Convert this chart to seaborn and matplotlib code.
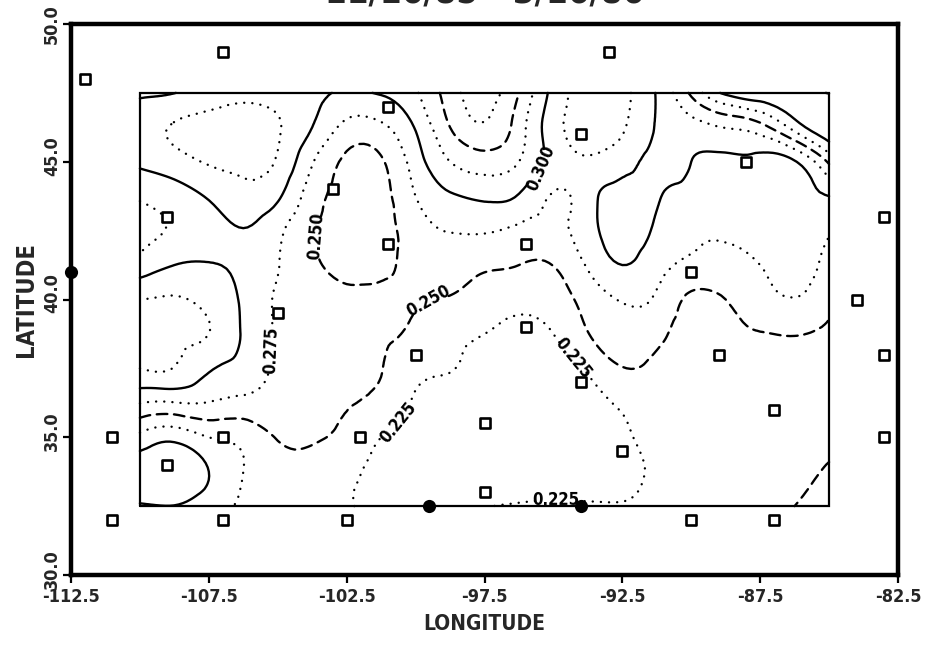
import numpy as np
import matplotlib
matplotlib.use("Agg")
import matplotlib.pyplot as plt
import matplotlib.tri as mtri
import matplotlib.transforms as mtransforms
import seaborn as sns

# Gridded analysis (1.25 degree spacing), rows from north to south
grid_lon = [-110.0, -108.75, -107.5, -106.25, -105.0, -103.75, -102.5, -101.25,
            -100.0, -98.75, -97.5, -96.25, -95.0, -93.75, -92.5, -91.25,
            -90.0, -88.75, -87.5, -86.25, -85.0]
grid_lat = [47.5, 46.25, 45.0, 43.75, 42.5, 41.25, 40.0, 38.75, 37.5, 36.25,
            35.0, 33.75, 32.5]

row_475 = [0.296, 0.2995, 0.313, 0.318, 0.317, 0.308, 0.297, 0.302, 0.322, 0.363, 0.385,
           0.350, 0.292, 0.262, 0.268, 0.302, 0.355, 0.405, 0.420, 0.410, 0.399]
row_4625 = [0.315, 0.327, 0.333, 0.336, 0.327, 0.300, 0.268, 0.270, 0.302, 0.350, 0.372,
            0.337, 0.285, 0.264, 0.272, 0.302, 0.315, 0.326, 0.340, 0.385, 0.420]
row_450 = [0.305, 0.315, 0.327, 0.332, 0.322, 0.277, 0.245, 0.247, 0.287, 0.325, 0.338,
           0.325, 0.290, 0.278, 0.290, 0.306, 0.300, 0.295, 0.293, 0.298, 0.355]
row_4375 = [0.278, 0.287, 0.303, 0.316, 0.304, 0.262, 0.242, 0.242, 0.275, 0.297, 0.305,
            0.298, 0.273, 0.290, 0.310, 0.302, 0.293, 0.290, 0.288, 0.292, 0.300]
row_425 = [0.268, 0.277, 0.287, 0.299, 0.281, 0.253, 0.240, 0.242, 0.263, 0.276, 0.277,
           0.270, 0.268, 0.290, 0.310, 0.296, 0.280, 0.279, 0.285, 0.288, 0.277]
row_4125 = [0.285, 0.300, 0.302, 0.293, 0.276, 0.255, 0.243, 0.245, 0.258, 0.262, 0.254,
            0.250, 0.2505, 0.278, 0.300, 0.285, 0.270, 0.268, 0.275, 0.283, 0.268]
row_400 = [0.325, 0.327, 0.318, 0.296, 0.272, 0.262, 0.255, 0.255, 0.252, 0.248, 0.238,
           0.232, 0.237, 0.260, 0.277, 0.271, 0.245, 0.250, 0.265, 0.274, 0.258]
row_3875 = [0.332, 0.330, 0.325, 0.297, 0.272, 0.263, 0.258, 0.254, 0.245, 0.232, 0.225,
            0.219, 0.225, 0.249, 0.265, 0.257, 0.238, 0.242, 0.249, 0.251, 0.245]
row_375 = [0.325, 0.324, 0.303, 0.290, 0.271, 0.262, 0.258, 0.251, 0.232, 0.226, 0.217,
           0.213, 0.216, 0.228, 0.249, 0.243, 0.233, 0.235, 0.238, 0.240, 0.240]
row_3625 = [0.276, 0.274, 0.274, 0.268, 0.264, 0.258, 0.252, 0.242, 0.222, 0.215, 0.210,
            0.208, 0.210, 0.218, 0.228, 0.235, 0.236, 0.235, 0.235, 0.237, 0.238]
row_350 = [0.218, 0.207, 0.225, 0.232, 0.252, 0.253, 0.243, 0.225, 0.215, 0.208, 0.205,
           0.205, 0.207, 0.212, 0.222, 0.230, 0.234, 0.236, 0.238, 0.241, 0.244]
row_3375 = [0.185, 0.185, 0.200, 0.225, 0.237, 0.238, 0.230, 0.218, 0.212, 0.210, 0.210,
            0.212, 0.213, 0.215, 0.220, 0.228, 0.235, 0.238, 0.241, 0.245, 0.252]
row_325 = [0.203, 0.2005, 0.212, 0.230, 0.237, 0.235, 0.227, 0.219, 0.217, 0.219, 0.224,
           0.2265, 0.228, 0.227, 0.226, 0.230, 0.236, 0.240, 0.245, 0.250, 0.258]

# Observing stations
station_lon = [-112.0, -107.0, -93.0, -101.0, -94.0, -103.0, -88.0, -109.0, -101.0,
               -96.0, -83.0, -90.0, -84.0, -105.0, -100.0, -96.0, -89.0, -83.0,
               -94.0, -111.0, -107.0, -102.0, -97.5, -92.5, -87.0, -109.0, -83.0,
               -97.5, -111.0, -107.0, -102.5, -90.0, -87.0]
station_lat = [48.0, 49.0, 49.0, 47.0, 46.0, 44.0, 45.0, 43.0, 42.0,
               42.0, 43.0, 41.0, 40.0, 39.5, 38.0, 39.0, 38.0, 38.0,
               37.0, 35.0, 35.0, 35.0, 35.5, 34.5, 36.0, 34.0, 35.0,
               33.0, 32.0, 32.0, 32.0, 32.0, 32.0]
edge_station_lon = [-112.5, -99.5, -94.0]
edge_station_lat = [41.0, 32.5, 32.5]

contour_levels = [0.200, 0.225, 0.250, 0.275, 0.300, 0.325, 0.350, 0.375, 0.400]
label_lon = [-95.6, -103.4, -99.6, -105.3, -100.8, -94.4, -94.9]
label_lat = [44.85, 42.3, 40.1, 38.15, 35.7, 37.8, 33.0]

lon_ticks = [-112.5, -107.5, -102.5, -97.5, -92.5, -87.5, -82.5]
lat_ticks = [30.0, 35.0, 40.0, 45.0, 50.0]
title_text = "11/16/85 - 3/16/86"

sns.set_theme(style="white")
plt.rcParams["font.family"] = ["DejaVu Sans"]
plt.rcParams["font.stretch"] = "condensed"
plt.rcParams["font.weight"] = "bold"
plt.rcParams["axes.labelweight"] = "bold"

fig = plt.figure(figsize=(9.27, 6.46), dpi=100)
ax = fig.add_axes([71 / 927, 1 - 575 / 646, 827 / 927, 551 / 646])

# smooth the analysis grid with a cubic interpolant on a structured triangulation
lon2d, lat2d = np.meshgrid(grid_lon, grid_lat)
field = np.array([row_475, row_4625, row_450, row_4375, row_425, row_4125, row_400,
                  row_3875, row_375, row_3625, row_350, row_3375, row_325])
n_lat, n_lon = field.shape
triangles = []
for i in range(n_lat - 1):
    for j in range(n_lon - 1):
        a = i * n_lon + j
        b = a + 1
        c = a + n_lon
        d = c + 1
        triangles.append([a, b, d])
        triangles.append([a, d, c])
tri = mtri.Triangulation(lon2d.ravel(), lat2d.ravel(), np.array(triangles))
interp = mtri.CubicTriInterpolator(tri, field.ravel(), kind="min_E")
tri_fine, field_fine = mtri.UniformTriRefiner(tri).refine_field(
    field.ravel(), triinterpolator=interp, subdiv=3)


def level_style(level):
    step = int(round(level * 1000))
    if step % 100 == 0:
        return "solid"
    if step % 50 == 0:
        return (0, (4.5, 2.8))
    return (0, (0.05, 3.4))


cs = ax.tricontour(tri_fine, field_fine, levels=contour_levels, colors="black",
                   linewidths=1.7, linestyles=[level_style(v) for v in contour_levels])
cs.set_capstyle("round")
ax.clabel(cs, manual=list(zip(label_lon, label_lat)),
          fmt="%.3f", fontsize=12, inline=True, inline_spacing=2)

# analysis domain outline
x0, x1 = min(grid_lon), max(grid_lon)
y0, y1 = min(grid_lat), max(grid_lat)
ax.plot([x0, x1, x1, x0, x0], [y0, y0, y1, y1, y0], color="black", lw=1.6,
        solid_joinstyle="miter")

sns.scatterplot(x=station_lon, y=station_lat, marker="s", s=48, color="white",
                edgecolor="black", linewidth=1.9, ax=ax, zorder=5)
sns.scatterplot(x=edge_station_lon, y=edge_station_lat, marker="o", s=90,
                color="black", edgecolor="black", linewidth=0, ax=ax, zorder=6,
                clip_on=False)

ax.set_xlim(-112.5, -82.5)
ax.set_ylim(30, 50)
ax.set_xticks(lon_ticks)
ax.set_xticklabels([f"{v:.1f}" for v in lon_ticks], fontsize=13)
ax.set_yticks(lat_ticks)
ax.set_yticklabels([f"{v:.1f}" for v in lat_ticks], fontsize=13, rotation=90,
                   va="center")
ax.tick_params(axis="both", direction="out", length=6, width=1.6, color="black",
               bottom=True, left=True)
ax.tick_params(axis="y", pad=1)
ax.tick_params(axis="x", pad=3)
# latitude labels sit slightly above their ticks, except the topmost one
lift = mtransforms.ScaledTranslation(0, 6 / 100, fig.dpi_scale_trans)
for lab in ax.get_yticklabels()[:-1]:
    lab.set_transform(lab.get_transform() + lift)
for spine in ax.spines.values():
    spine.set_linewidth(3.2)
    spine.set_color("black")
ax.set_xlabel("LONGITUDE", fontsize=15, labelpad=6)
ax.set_ylabel("LATITUDE", fontsize=17, labelpad=4)
ax.grid(False)

fig.text(485 / 927, 1 - 3 / 646, title_text, ha="center", va="baseline", fontsize=25)

fig.savefig("out.png", dpi=100)
